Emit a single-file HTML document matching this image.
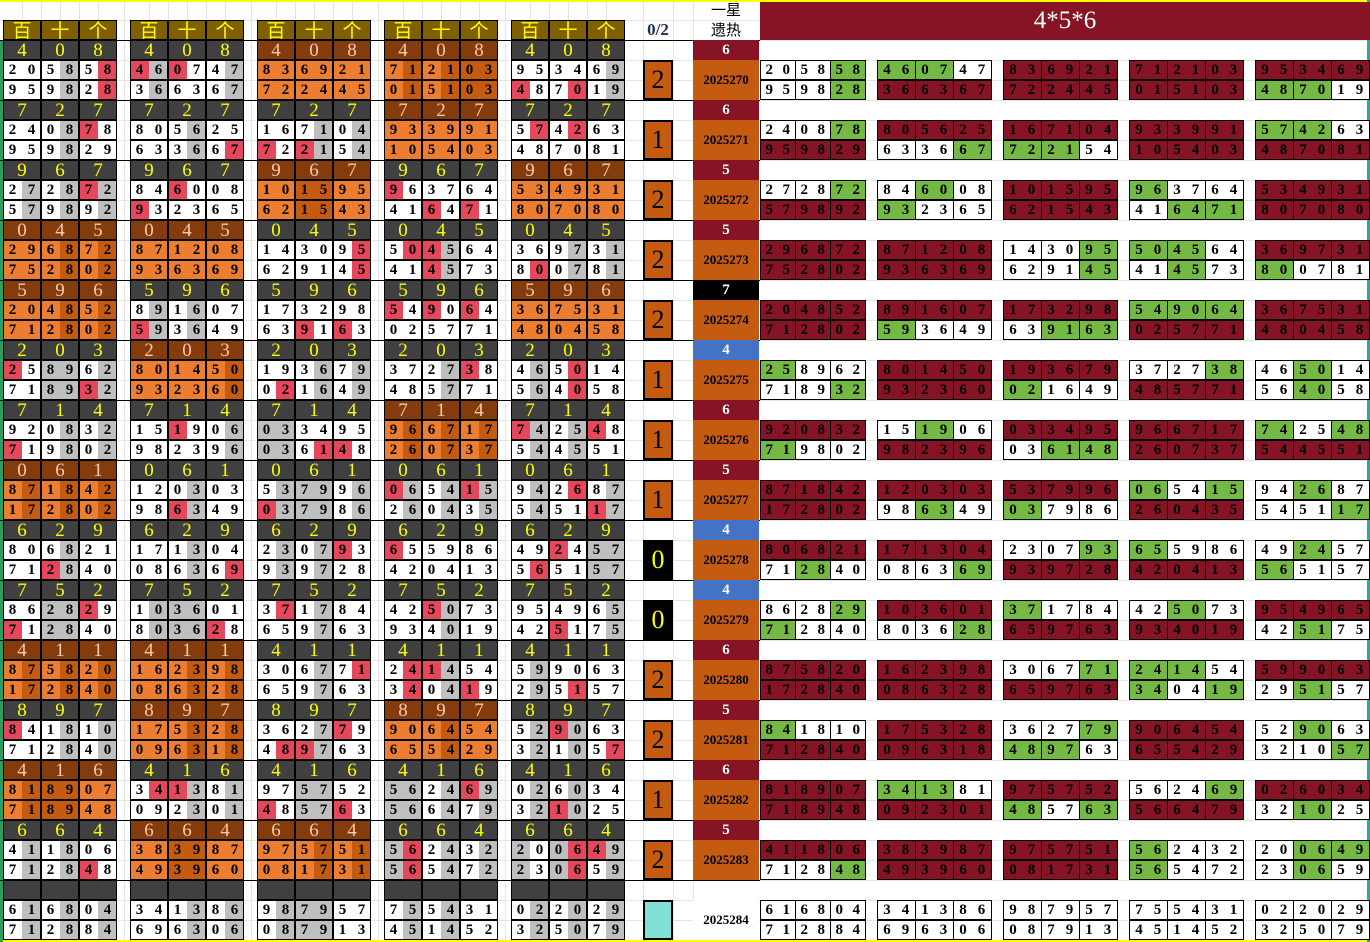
<!DOCTYPE html>
<html><head><meta charset="utf-8"><style>
html,body{margin:0;padding:0;background:#fff;}
#c{position:relative;width:1370px;height:942px;overflow:hidden;background:#fff;font-family:"Liberation Serif","Noto Serif CJK SC",serif;}
.a{position:absolute;box-sizing:border-box;text-align:center;}
.gl{position:absolute;background:#e4e4e4;}
</style></head><body><div id="c"></div>
<script>
var C=document.getElementById('c');
function box(x,y,w,h,bg,txt,st){var d=document.createElement('div');d.className='a';d.style.cssText='left:'+x+'px;top:'+y+'px;width:'+w+'px;height:'+h+'px;line-height:'+h+'px;'+(bg?'background:'+bg+';':'')+(st||'');if(txt!==undefined)d.textContent=txt;C.appendChild(d);return d;}
// gridlines
for(var y=20;y<942;y+=20){var g=document.createElement('div');g.className='gl';g.style.cssText='left:0;top:'+y+'px;width:1370px;height:1px';C.appendChild(g);}
[22,41,60,79,98,124,149,168,187,206,225,251,276,295,314,333,352,378,403,422,441,460,479,505,530,549,568,587,606,643,673,693].forEach(function(x){var g=document.createElement('div');g.className='gl';g.style.cssText='left:'+x+'px;top:0;width:1px;height:942px';C.appendChild(g);});
// borders
box(0,0,1370,2,'#ffff00');box(0,940,1370,2,'#ffff00');box(0,40,3,902,'#2e9e5e');box(1367,0,3,942,'#2aa9a0');
var H=["408","727","967","045","596","203","714","061","629","752","411","897","416","664",""];
var D=[
[["205858","959828"],["460747","366367"],["836921","722445"],["712103","015103"],["953469","487019"]],
[["240878","959829"],["805625","633667"],["167104","722154"],["933991","105403"],["574263","487081"]],
[["272872","579892"],["846008","932365"],["101595","621543"],["963764","416471"],["534931","807080"]],
[["296872","752802"],["871208","936369"],["143095","629145"],["504564","414573"],["369731","800781"]],
[["204852","712802"],["891607","593649"],["173298","639163"],["549064","025771"],["367531","480458"]],
[["258962","718932"],["801450","932360"],["193679","021649"],["372738","485771"],["465014","564058"]],
[["920832","719802"],["151906","982396"],["033495","036148"],["966717","260737"],["742548","544551"]],
[["871842","172802"],["120303","986349"],["537996","037986"],["065415","260435"],["942687","545117"]],
[["806821","712840"],["171304","086369"],["230793","939728"],["655986","420413"],["492457","565157"]],
[["862829","712840"],["103601","803628"],["371784","659763"],["425073","934019"],["954965","425175"]],
[["875820","172840"],["162398","086328"],["306771","659763"],["241454","340419"],["599063","295157"]],
[["841810","712840"],["175328","096318"],["362779","489763"],["906454","655429"],["529063","321057"]],
[["818907","718948"],["341381","092301"],["975752","485763"],["562469","566479"],["026034","321025"]],
[["411806","712848"],["383987","493960"],["975751","081731"],["562432","565472"],["200649","230659"]],
[["616804","712884"],["341386","696306"],["987957","087913"],["755431","451452"],["022029","325079"]]];
var Z=["2","1","2","2","2","1","1","1","0","0","2","2","1","2",""];
var HOT=["6","6","5","5","7","4","6","5","4","4","6","5","6","5",""];
var LX=[3,130,257,384,511];
var RX=[[760,35],[877,38],[1003,38],[1129,38],[1255,38]];
var digit='font-family:"Liberation Serif",serif;font-weight:bold;font-size:15px;color:#000;';
// top header
LX.forEach(function(x){["百","十","个"].forEach(function(t,i){box(x+i*38,20,38,20,'#7f6000',t,'border:1px solid #000;color:#ffff00;font-size:19px;font-family:"Noto Sans CJK SC",sans-serif;line-height:18px;');});});
box(643,20,30,20,null,'0/2','font-weight:bold;font-size:17px;color:#203050;');
box(693,0,66,20,null,'一星','font-size:15px;font-family:"Noto Sans CJK SC",sans-serif;line-height:20px;');
box(693,20,66,20,null,'遗热','font-size:15px;font-family:"Noto Sans CJK SC",sans-serif;line-height:20px;');
box(760,2,610,38,'#861424','4*5*6','color:#fff;font-size:25px;padding-right:0;line-height:38px;');
for(var k=0;k<15;k++){
 var y=40+60*k;
 box(0,y,760,1,'#000');
 for(var g=0;g<5;g++){
  var R=D[k][g],h=H[k],x=LX[g];
  var red=[[],[]],any=false,rowAny=[false,false];
  for(var r=0;r<2;r++)for(var c=0;c<6;c++){var rd=h!==''&&R[r][c]===h[Math.floor(c/2)];red[r][c]=rd;if(rd){any=true;rowAny[r]=true;}}
  var orange=h!==''&&!any;
  for(var i=0;i<3;i++){box(x+i*38,y,38,20,orange?'#843c0c':'#404040',h?h[i]:'','border:1px solid #000;font-size:19px;color:'+(orange?'#f8cbad':'#ffff00')+';line-height:19px;');}
  for(var r=0;r<2;r++){
   var yy=y+20+r*20;
   for(var c=0;c<6;c++){
    var same=R[0][c]===R[1][c],bg;
    if(orange)bg=same?'#c55a11':'#ed7d31';else bg=red[r][c]?'#e6475a':(same?'#bfbfbf':'#fff');
    box(x+c*19,yy,19,20,bg,R[r][c],digit);
   }
   for(var i=0;i<3;i++)box(x+i*38,yy,38,20,null,undefined,'border:1px solid #000;');
   // right side
   var rx=RX[g][0],pw=RX[g][1];
   for(var p=0;p<3;p++){
    var bg2;
    if(orange||!rowAny[r])bg2='#861424';else bg2=(red[r][2*p]||red[r][2*p+1])?'#74b944':'#fff';
    if(h==='')bg2='#fff';
    var b=box(rx+p*pw,yy,pw+1,20,bg2,undefined,'border:1px solid #000;');
    box(rx+p*pw,yy,pw/2+1,20,null,R[r][2*p],digit);
    box(rx+p*pw+pw/2,yy,pw/2,20,null,R[r][2*p+1],digit);
   }
  }
 }
 // 0/2 box
 var zb=Z[k]==='0'?'#000':(Z[k]===''?'#80e0d8':'#c55a11');
 box(643,y+20,30,40,zb,Z[k],'border:2px solid #000;font-size:26px;line-height:36px;color:'+(Z[k]==='0'?'#ffff00':'#000')+';');
 // hot
 if(HOT[k]!==''){var hb=HOT[k]==='7'?'#000':(HOT[k]==='4'?'#4472c4':'#861424');box(693,y,66,20,hb,HOT[k],'color:#fff;font-weight:bold;font-size:15px;');}
 box(693,y+20,66,40,k<14?'#c55a11':'#fff',String(2025270+k),'font-weight:bold;font-size:13px;color:#000;line-height:40px;');
}
</script></body></html>
